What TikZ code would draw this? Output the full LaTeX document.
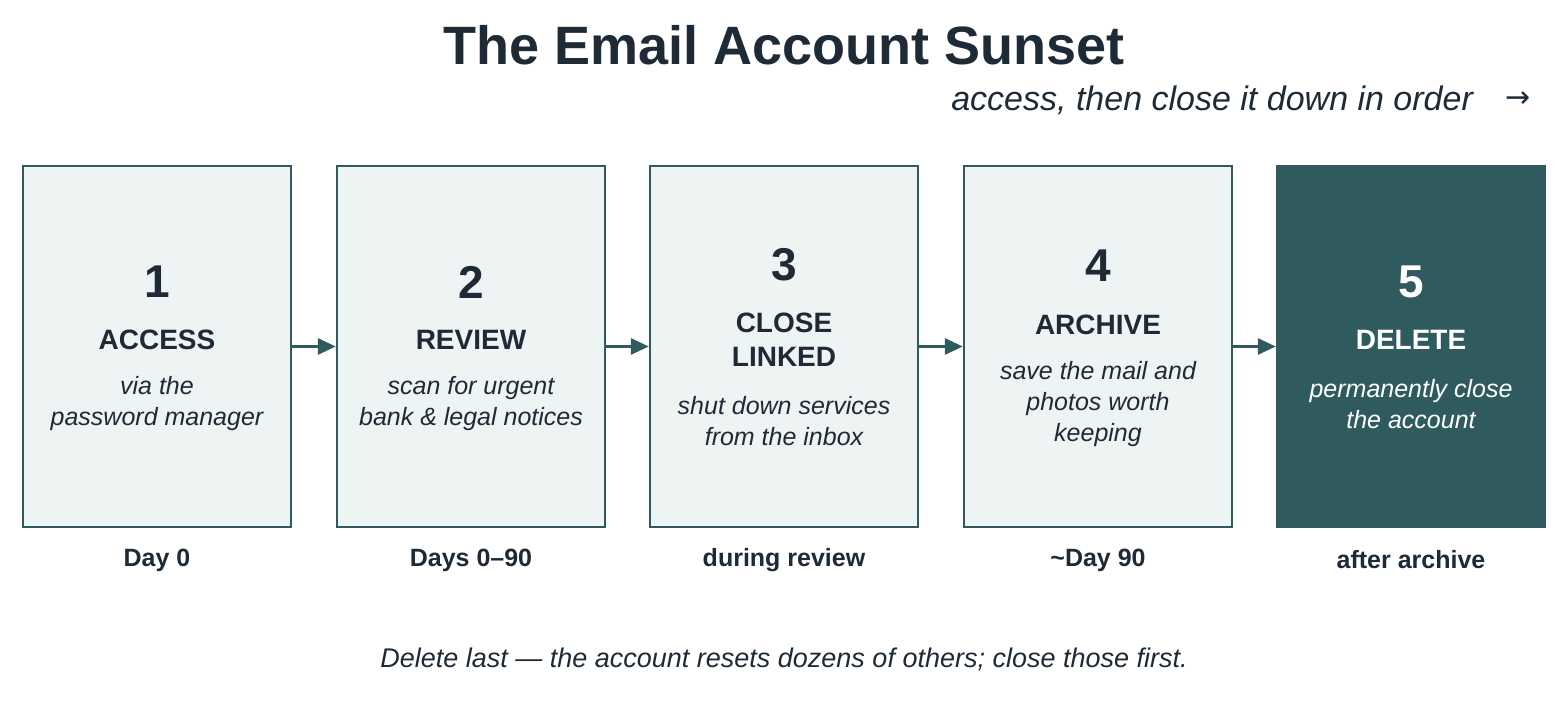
\documentclass[tikz,border=0pt]{standalone}
\usepackage{fontspec}
\setmainfont{Liberation Sans}
\newfontfamily\symfont{DejaVu Sans}
\usetikzlibrary{arrows.meta}
\definecolor{ink}{HTML}{1E2A35}
\definecolor{teal}{HTML}{2F5A5E}
\definecolor{pale}{HTML}{EEF4F4}
\begin{document}
\begin{tikzpicture}[x=0.5pt,y=-0.5pt,
 box/.style={draw=teal,line width=1.2pt,fill=pale,minimum width=134pt,minimum height=180.5pt,inner sep=0},
 dbox/.style={box,fill=teal},
 num/.style={font=\fontsize{23}{26}\selectfont\bfseries,text=ink},
 head/.style={font=\fontsize{14}{17}\selectfont\bfseries,text=ink,align=center},
 desc/.style={font=\fontsize{12.5}{15.5}\selectfont\itshape,text=ink,align=center},
 lab/.style={font=\fontsize{12.5}{15}\selectfont\bfseries,text=ink},
 arr/.style={draw=teal,line width=1.5pt,-{Triangle[length=9pt,width=8pt]}}]
\useasboundingbox (0,0) rectangle (1568,704);
\node[font=\fontsize{27}{32}\selectfont\bfseries,text=ink] (title) at (784,45) {The Email Account Sunset};
\node[font=\fontsize{17}{20}\selectfont\itshape,text=ink,anchor=east] (sub) at (1480,100) {access, then close it down in order};
\node[font=\fontsize{15}{18}\symfont,text=ink] (subarr) at (1518,100) {→};
\node[box] (b1) at (157,346.5) {};
\node[box] (b2) at (471,346.5) {};
\node[box] (b3) at (784,346.5) {};
\node[box] (b4) at (1098,346.5) {};
\node[dbox] (b5) at (1411,346.5) {};
\draw[arr] (b1) -- (b2);
\draw[arr] (b2) -- (b3);
\draw[arr] (b3) -- (b4);
\draw[arr] (b4) -- (b5);
% box 1
\node[num] (n1) at (157,282) {1};
\node[head] (h1) at (157,340) {ACCESS};
\node[desc] (d1) at (157,404) {via the\\password manager};
% box 2
\node[num] (n2) at (471,282) {2};
\node[head] (h2) at (471,340) {REVIEW};
\node[desc] (d2) at (471,404) {scan for urgent\\bank \& legal notices};
% box 3
\node[num] (n3) at (784,265) {3};
\node[head] (h3) at (784,340) {CLOSE\\LINKED};
\node[desc] (d3) at (784,421) {shut down services\\from the inbox};
% box 4
\node[num] (n4) at (1098,266) {4};
\node[head] (h4) at (1098,325) {ARCHIVE};
\node[desc] (d4) at (1098,404) {save the mail and\\photos worth\\keeping};
% box 5
\node[num,text=white] (n5) at (1411,282) {5};
\node[head,text=white] (h5) at (1411,340) {DELETE};
\node[desc,text=white] (d5) at (1411,404) {permanently close\\the account};
% labels
\node[lab] (l1) at (157,560) {Day 0};
\node[lab] (l2) at (471,560) {Days 0–90};
\node[lab] (l3) at (784,560) {during review};
\node[lab] (l4) at (1098,560) {\textasciitilde Day 90};
\node[lab] (l5) at (1411,560) {after archive};
\node[font=\fontsize{13.5}{16}\selectfont\itshape,text=ink] (foot) at (784,659) {Delete last — the account resets dozens of others; close those first.};
\end{tikzpicture}
\end{document}
